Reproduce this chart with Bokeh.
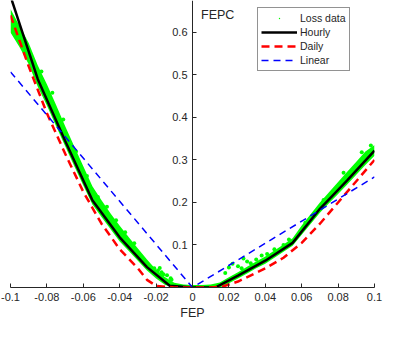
from bokeh.plotting import figure
from bokeh.models import Range1d, FixedTicker, Legend, LegendItem, Label
from bokeh.embed import file_html
from bokeh.resources import INLINE

# ---- data ----
x_ticks = [-0.1, -0.08, -0.06, -0.04, -0.02, 0, 0.02, 0.04, 0.06, 0.08, 0.1]
x_tick_labels = ["-0.1", "-0.08", "-0.06", "-0.04", "-0.02", "0", "0.02", "0.04", "0.06", "0.08", "0.1"]
y_ticks = [0.1, 0.2, 0.3, 0.4, 0.5, 0.6]
y_tick_labels = ["0.1", "0.2", "0.3", "0.4", "0.5", "0.6"]

hourly_x = [-0.1, -0.085, -0.07, -0.055, -0.04, -0.025, -0.0125, 0, 0.0125, 0.025, 0.04, 0.055, 0.07, 0.085, 0.1]
hourly_y = [0.685, 0.49, 0.345, 0.205, 0.118, 0.048, 0.004, 0.0, 0.0, 0.028, 0.063, 0.105, 0.185, 0.252, 0.322]

daily_x = [-0.1, -0.09, -0.08, -0.07, -0.06, -0.05, -0.04, -0.03, -0.025, -0.02, -0.01, 0, 0.01, 0.017, 0.025, 0.04, 0.05, 0.06, 0.07, 0.08, 0.09, 0.1]
daily_y = [0.64, 0.52, 0.41, 0.315, 0.225, 0.15, 0.09, 0.045, 0.018, 0.004, 0.0, 0.0, 0.0, 0.003, 0.014, 0.045, 0.07, 0.105, 0.15, 0.2, 0.25, 0.3]

linear_x = [-0.1, 0, 0.1]
linear_y = [0.507, 0.0, 0.26]

band_x = [-0.1, -0.095, -0.09, -0.085, -0.08, -0.075, -0.07, -0.065, -0.06, -0.055, -0.05, -0.045,
          -0.04, -0.035, -0.03, -0.025, -0.02, -0.015, -0.01, -0.005, 0, 0.005, 0.01, 0.015, 0.02,
          0.025, 0.03, 0.035, 0.04, 0.045, 0.05, 0.055, 0.06, 0.065, 0.07, 0.075, 0.08, 0.085, 0.09, 0.095, 0.1]
band_low = [0.60, 0.565, 0.525, 0.472, 0.428, 0.38, 0.333, 0.286, 0.24, 0.195, 0.166, 0.137,
            0.108, 0.086, 0.063, 0.04, 0.021, 0.006, 0.0, 0.0, 0.0, 0.0, 0.0, 0.0, 0.01,
            0.021, 0.033, 0.045, 0.056, 0.07, 0.084, 0.098, 0.124, 0.15, 0.176, 0.198, 0.22, 0.242, 0.265, 0.288, 0.31]
band_high = [0.655, 0.615, 0.575, 0.522, 0.478, 0.43, 0.38, 0.332, 0.285, 0.238, 0.205, 0.174,
             0.145, 0.118, 0.092, 0.066, 0.042, 0.024, 0.011, 0.007, 0.006, 0.006, 0.007, 0.012, 0.024,
             0.036, 0.049, 0.061, 0.073, 0.087, 0.101, 0.116, 0.146, 0.173, 0.2, 0.224, 0.248, 0.272, 0.296, 0.32, 0.335]

loss_x = [-0.021, -0.019, -0.018, -0.017, -0.016, -0.014, -0.012, -0.0115,
          0.018, 0.02, 0.022, 0.025, 0.027, 0.028, 0.03, 0.032, 0.035, 0.038, 0.041, 0.045, 0.05, 0.053,
          -0.083, -0.077, -0.071, -0.064, -0.058, -0.052, -0.047, -0.042, -0.037, -0.032,
          0.062, 0.072, 0.083, 0.093, 0.098]
loss_y = [0.045, 0.04, 0.046, 0.036, 0.031, 0.029, 0.022, 0.018,
          0.034, 0.047, 0.056, 0.05, 0.045, 0.068, 0.061, 0.057, 0.066, 0.075, 0.079, 0.09, 0.1, 0.113,
          0.508, 0.458, 0.395, 0.32, 0.262, 0.213, 0.19, 0.158, 0.13, 0.104,
          0.152, 0.206, 0.27, 0.318, 0.334]

INK = "#262626"
FONT = "Liberation Sans"
GREEN = "#00ff00"

p = figure(width=383, height=322, x_range=Range1d(-0.1, 0.1), y_range=Range1d(0, 0.675),
           output_backend="svg", toolbar_location=None,
           min_border_left=10, min_border_right=9, min_border_top=0, min_border_bottom=0)
p.grid.visible = False
p.outline_line_color = None
p.background_fill_color = "white"
p.border_fill_color = "white"

# x axis (at y = 0, bottom)
xa = p.xaxis[0]
xa.ticker = FixedTicker(ticks=x_ticks)
xa.major_label_overrides = {t: l for t, l in zip(x_ticks, x_tick_labels)}
xa.minor_tick_line_color = None
xa.major_tick_in = 4
xa.major_tick_out = 0
xa.axis_line_color = INK
xa.major_tick_line_color = INK
xa.major_label_text_color = INK
xa.major_label_text_font = FONT
xa.major_label_text_font_size = "11px"
xa.major_label_standoff = 5
xa.axis_label = "FEP"
xa.axis_label_text_font = FONT
xa.axis_label_text_font_size = "12.5px"
xa.axis_label_text_font_style = "normal"
xa.axis_label_text_color = INK
xa.axis_label_standoff = 2

# y axis (at x = 0)
ya = p.yaxis[0]
ya.fixed_location = 0
ya.ticker = FixedTicker(ticks=y_ticks)
ya.major_label_overrides = {t: l for t, l in zip(y_ticks, y_tick_labels)}
ya.minor_tick_line_color = None
ya.major_tick_in = 4
ya.major_tick_out = 0
ya.axis_line_color = INK
ya.major_tick_line_color = INK
ya.major_label_text_color = INK
ya.major_label_text_font = FONT
ya.major_label_text_font_size = "11px"
ya.major_label_standoff = 5

# loss data
p.varea(x=band_x, y1=band_low, y2=band_high, fill_color=GREEN, fill_alpha=1.0)
r_loss = p.scatter(loss_x, loss_y, size=16, marker="dot", fill_color=GREEN, line_color=GREEN, line_width=1.5)

r_hourly = p.line(hourly_x, hourly_y, line_color="black", line_width=2.5)
r_daily = p.line(daily_x, daily_y, line_color="#ff0000", line_width=2.5, line_dash="8 5")
r_linear = p.line(linear_x, linear_y, line_color="#0000ff", line_width=1.5, line_dash="7 5")

p.add_layout(Label(x=0.0047, y=0.64, text="FEPC", text_font=FONT, text_font_size="12.5px",
                   text_color=INK, text_baseline="middle"))

legend = Legend(items=[LegendItem(label="Loss data", renderers=[r_loss]),
                       LegendItem(label="Hourly", renderers=[r_hourly]),
                       LegendItem(label="Daily", renderers=[r_daily]),
                       LegendItem(label="Linear", renderers=[r_linear])],
                location=(247, 216), glyph_width=36, glyph_height=14, label_height=14,
                label_standoff=3, spacing=0, padding=3, margin=0,
                label_text_font=FONT, label_text_font_size="10.5px", label_text_color=INK,
                border_line_color=INK, border_line_width=1, background_fill_alpha=1.0)
p.add_layout(legend)

open("out.html", "w").write(file_html(p, INLINE))
